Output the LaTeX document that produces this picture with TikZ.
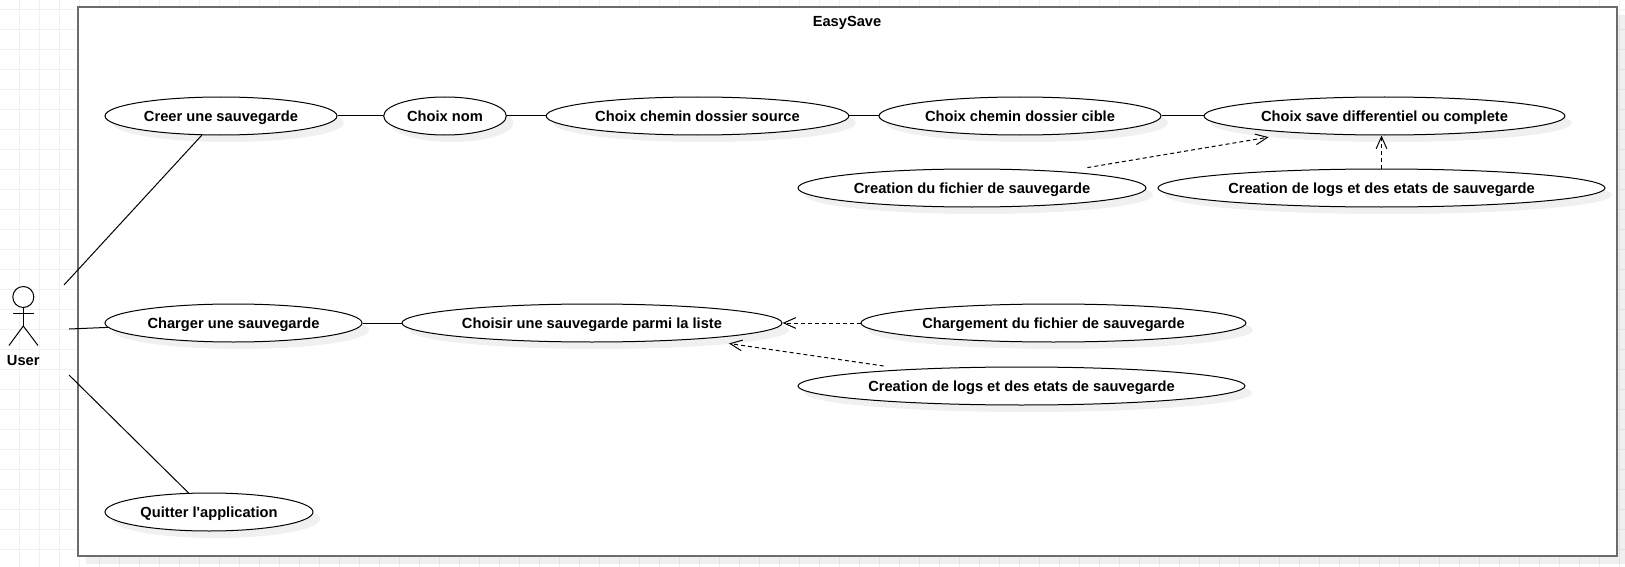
\documentclass[tikz,border=0pt]{standalone}
\usepackage{fontspec}
\setmainfont{Liberation Sans}[Ligatures={TeXOff,CommonOff}]
\usetikzlibrary{shapes.geometric,shadows,arrows.meta}
\tikzset{every picture/.style={line width=0.75pt}}
\tikzset{boldtext/.style={font=\fontsize{11pt}{13pt}\selectfont\bfseries,text height=10pt,text depth=2pt},
softshadow/.style={drop shadow={shadow xshift=#1,shadow yshift=-#1,fill=black,opacity=0.06}},
usecase/.style={ellipse,draw,fill=white,inner sep=0pt,minimum height=28.5pt,softshadow=5.25pt,boldtext},
dep/.style={dashed,dash pattern=on 3pt off 2.25pt,-{Straight Barb[length=9pt,width=8pt]}}}

\begin{document}
\begin{tikzpicture}[x=0.75pt,y=0.75pt,yscale=-1,xscale=1]
\useasboundingbox (0,0) rectangle (1625,567);
\fill [white] (0,0) rectangle (1625,567);

%Grid
\foreach \gx in {1,...,81} {\draw [black!6] ({\gx*20-0.7},0) -- ({\gx*20-0.7},567) ;}
\foreach \gy in {0,...,27} {\draw [black!6] (0,{\gy*20+9.3}) -- (1625,{\gy*20+9.3}) ;}

%Frame
\node (easysave) [draw=black!58,line width=1.5pt,fill=white,inner sep=0pt,outer sep=0pt,minimum width=1154pt,minimum height=412pt,anchor=north west,softshadow=6pt] at (78,6.7) {};
\node (title) [boldtext] at (847,21) {EasySave};

%Actor
\node (head) [circle,draw,fill=white,minimum size=15.75pt,inner sep=0pt] at (23.3,297) {};
\coordinate (hip) at (23.3,326);
\draw (head.south) -- (hip) ;
\draw (13,313) -- (34,313) ;
\draw (hip) -- (9,345.5) ;
\draw (hip) -- (38,345.5) ;
\node (user) [boldtext] at (23.3,360) {User};
\coordinate (usera) at (64,285);
\coordinate (userb) at (69,329);
\coordinate (userc) at (69,375);

% Use cases
\node (creer) [usecase,minimum width=174pt] at (221,116) {Creer une sauvegarde};
\node (nom) [usecase,minimum width=92pt] at (445,116) {Choix nom};
\node (source) [usecase,minimum width=227pt] at (697.5,116) {Choix chemin dossier source};
\node (cible) [usecase,minimum width=211.5pt] at (1020,116) {Choix chemin dossier cible};
\node (save) [usecase,minimum width=270.75pt] at (1384.5,116) {Choix save differentiel ou complete};
\node (fichier) [usecase,minimum width=261pt] at (972,188) {Creation du fichier de sauvegarde};
\node (logs) [usecase,minimum width=335.25pt] at (1381.5,188) {Creation de logs et des etats de sauvegarde};
\node (charger) [usecase,minimum width=192.75pt] at (233.5,323) {Charger une sauvegarde};
\node (choisir) [usecase,minimum width=285pt] at (592,323) {Choisir une sauvegarde parmi la liste};
\node (chargement) [usecase,minimum width=288.75pt] at (1053.5,323) {Chargement du fichier de sauvegarde};
\node (logsb) [usecase,minimum width=335.25pt] at (1021.5,386) {Creation de logs et des etats de sauvegarde};
\node (quitter) [usecase,minimum width=156pt] at (209,512) {Quitter l'application};

% Connectors
\draw (usera) -- (creer.225) ;
\draw (userb) -- (charger.182) ;
\draw (userc) -- (quitter.137) ;
\draw (creer) -- (nom) ;
\draw (nom) -- (source) ;
\draw (source) -- (cible) ;
\draw (cible) -- (save) ;
\draw (charger) -- (choisir) ;
\draw [dep] ([shift={(-2,-6)}]fichier.7) -- ([shift={(3.5,6.5)}]save.187) ;
\draw [dep] (logs.north) -- (logs.north|-save.south) ;
\draw [dep] (chargement.west) -- (choisir.east) ;
\draw [dep] ([shift={(5,-5)}]logsb.174) -- ([shift={(4,6.5)}]choisir.354.5) ;
\end{tikzpicture}
\end{document}
